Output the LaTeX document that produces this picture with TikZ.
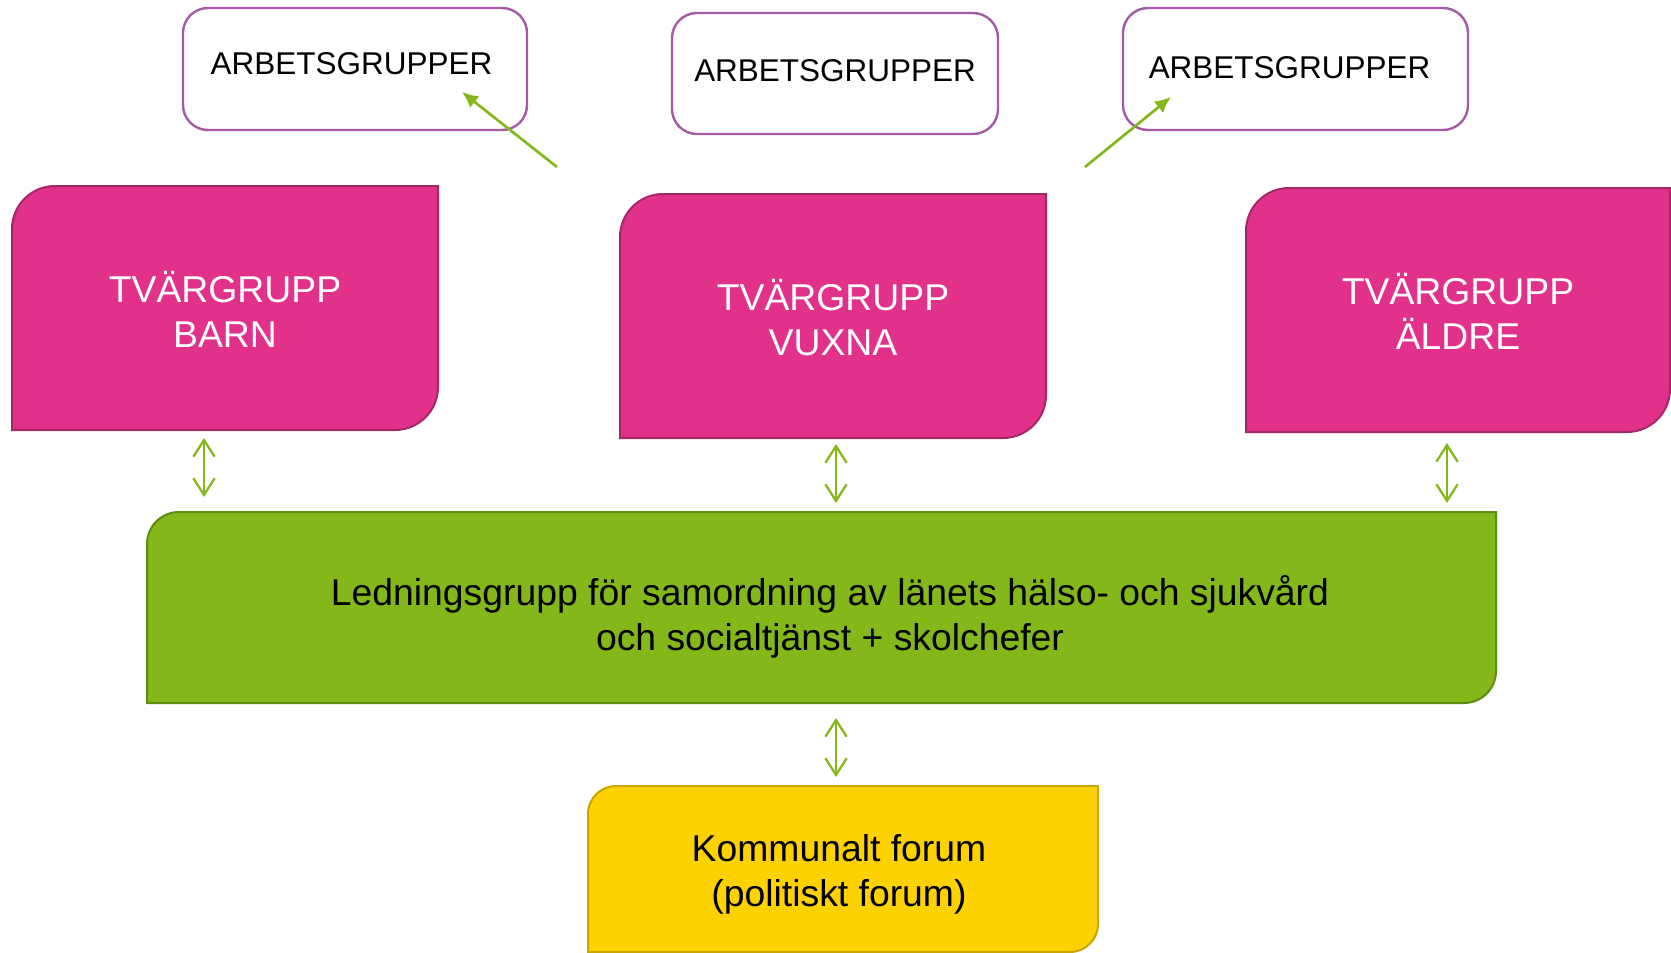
\documentclass[tikz,border=0pt]{standalone}
\usepackage{fontspec}
\setmainfont{Liberation Sans}
\usetikzlibrary{arrows.meta,backgrounds}
\definecolor{pinkfill}{HTML}{E1318A}
\definecolor{pinkline}{HTML}{A32866}
\definecolor{greenfill}{HTML}{84B71A}
\definecolor{greenline}{HTML}{5F8B12}
\definecolor{yellowfill}{HTML}{FED200}
\definecolor{yellowline}{HTML}{C9A500}
\definecolor{purpleline}{HTML}{A55AA5}
\definecolor{arrowgreen}{HTML}{84B81A}
\newcommand{\tlbrpath}[3]{%
  \path[#3] (#1.south west) -- ([yshift=-#2]#1.north west)
    arc[start angle=180,end angle=90,radius=#2] -- (#1.north east)
    -- ([yshift=#2]#1.south east)
    arc[start angle=0,end angle=-90,radius=#2] -- cycle;}
\tikzset{
  box/.style={inner sep=0pt, outer sep=0pt, align=center},
  bigfont/.style={font=\fontsize{28}{33.75}\selectfont},
  workbox/.style={box, draw=purpleline, line width=1.8pt, rounded corners=18.75pt,
    font=\fontsize{23.6}{28}\selectfont, text depth=0pt},
  pinkbox/.style={box, bigfont, text=white, text height=58.5pt, text depth=0pt},
  diag/.style={draw=arrowgreen, line width=2pt, -{Latex[length=12pt,width=11pt]}},
  vv/.style={draw=arrowgreen, line width=1.7pt,
    {Straight Barb[length=12.5pt,width=16pt]}-{Straight Barb[length=12.5pt,width=16pt]}},
}
\begin{document}
\begin{tikzpicture}[x=0.75pt,y=0.75pt]
\useasboundingbox (0,0) rectangle (1671,-953);
% work groups
\node[workbox, text height=7.5pt, minimum width=344*0.75pt, minimum height=122*0.75pt] (a1) at (355,-69) {\hspace*{-5.25pt}ARBETSGRUPPER};
\node[workbox, text height=12.3pt, minimum width=326*0.75pt, minimum height=121*0.75pt] (a2) at (835,-73.5) {ARBETSGRUPPER};
\node[workbox, text height=13.5pt, minimum width=345*0.75pt, minimum height=122*0.75pt] (a3) at (1295.5,-69) {\hspace*{-9pt}ARBETSGRUPPER};
% cross groups
\node[pinkbox, minimum width=426*0.75pt, minimum height=244*0.75pt] (barn) at (225,-308) {TVÄRGRUPP\\BARN};
\node[pinkbox, minimum width=426*0.75pt, minimum height=244*0.75pt] (vuxna) at (833,-316) {TVÄRGRUPP\\VUXNA};
\node[pinkbox, minimum width=424*0.75pt, minimum height=244*0.75pt] (aldre) at (1458,-310) {TVÄRGRUPP\\ÄLDRE};
% management
\node[box, bigfont, text height=63.75pt, text depth=0pt, minimum width=1349*0.75pt, minimum height=191*0.75pt] (led) at (821.5,-607.5)
  {\hspace*{12.75pt}Ledningsgrupp för samordning av länets hälso- och sjukvård\\\hspace*{12.75pt}och socialtjänst + skolchefer};
% forum
\node[box, bigfont, text height=55.5pt, text depth=0pt, minimum width=510*0.75pt, minimum height=166*0.75pt] (forum) at (843,-869)
  {\hspace*{-6pt}Kommunalt forum\\\hspace*{-6pt}(politiskt forum)};
\begin{pgfonlayer}{background}
  \tlbrpath{barn}{32.25pt}{fill=pinkfill, draw=pinkline, line width=1.5pt}
  \tlbrpath{vuxna}{32.25pt}{fill=pinkfill, draw=pinkline, line width=1.5pt}
  \tlbrpath{aldre}{32.25pt}{fill=pinkfill, draw=pinkline, line width=1.5pt}
  \tlbrpath{led}{24pt}{fill=greenfill, draw=greenline, line width=1.5pt}
  \tlbrpath{forum}{21pt}{fill=yellowfill, draw=yellowline, line width=1.5pt}
\end{pgfonlayer}
% diagonal arrows
\coordinate (d1s) at (557,-167);
\coordinate (d1e) at (462,-92);
\coordinate (d3s) at (1085,-167);
\coordinate (d3e) at (1171,-97);
\draw[diag] (d1s) -- (d1e);
\draw[diag] (d3s) -- (d3e);
% vertical arrows
\draw[vv, shorten <=6pt, shorten >=11.25pt] ([xshift=-15.75pt]barn.south) -- ([xshift=-15.75pt]barn.south |- led.north);
\draw[vv, shorten <=4.5pt, shorten >=6.75pt] ([xshift=2.25pt]vuxna.south) -- ([xshift=2.25pt]vuxna.south |- led.north);
\draw[vv, shorten <=8.25pt, shorten >=6.75pt] ([xshift=-8.25pt]aldre.south) -- ([xshift=-8.25pt]aldre.south |- led.north);
\draw[vv, shorten <=11.25pt, shorten >=6.75pt] ([xshift=10.9pt]led.south) -- ([xshift=10.9pt]led.south |- forum.north);
\end{tikzpicture}
\end{document}
